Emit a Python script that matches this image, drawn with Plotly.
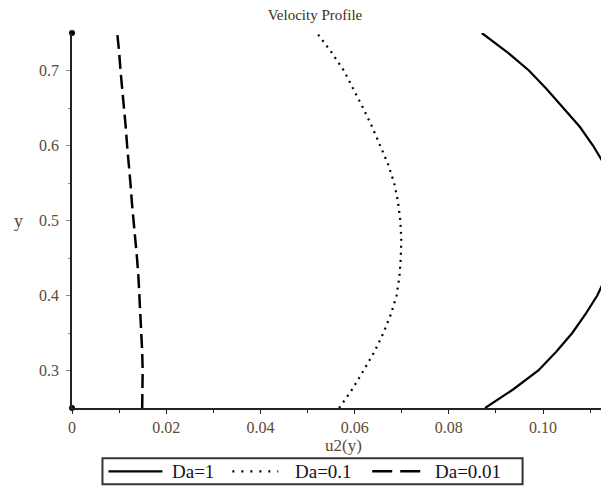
import plotly.graph_objects as go

# ---- data ----
y_vals = [0.25, 0.275, 0.30, 0.325, 0.35, 0.375, 0.40, 0.425, 0.45, 0.475, 0.50,
          0.525, 0.55, 0.575, 0.60, 0.625, 0.65, 0.675, 0.70, 0.725, 0.75]

u_da1 = [0.0877, 0.0937, 0.0990, 0.1028, 0.1062, 0.1090, 0.1115, 0.1134, 0.1148, 0.1157, 0.1160,
         0.1156, 0.1146, 0.1130, 0.1106, 0.1078, 0.1043, 0.1008, 0.0970, 0.0923, 0.0870]

u_da01 = [0.0567, 0.0595, 0.0619, 0.0642, 0.0661, 0.0677, 0.0689, 0.0695, 0.0698, 0.0699, 0.0697,
          0.0692, 0.0684, 0.0671, 0.0654, 0.0637, 0.0618, 0.0598, 0.0577, 0.0550, 0.0520]

u_da001 = [0.0149, 0.0150, 0.0150, 0.0149, 0.0147, 0.0146, 0.0144, 0.0141, 0.0138, 0.0134, 0.0130,
           0.0127, 0.0124, 0.0120, 0.0117, 0.0114, 0.0110, 0.0107, 0.0103, 0.0100, 0.0096]

series_names = ["Da=1", "Da=0.1", "Da=0.01"]

x_tick_vals = [0, 0.02, 0.04, 0.06, 0.08, 0.10]
x_tick_text = ["0", "0.02", "0.04", "0.06", "0.08", "0.10"]
x_minor_vals = [0.01, 0.03, 0.05, 0.07, 0.09, 0.11]
y_tick_vals = [0.3, 0.4, 0.5, 0.6, 0.7]
y_tick_text = ["0.3", "0.4", "0.5", "0.6", "0.7"]
y_minor_vals = [0.35, 0.45, 0.55, 0.65]

FONT = "Liberation Serif"
TXT = "#5c4a33"

# layout geometry (pixels); the page body adds an 8px margin, so the figure
# is 8px smaller and all page positions are shifted by that offset
OFF = 8
W, H = 609 - OFF, 488 - OFF
ML, MR, MT, MB = 71.5 - OFF, 0, 32.5 - OFF, 488 - 408.5
PW, PH = W - ML - MR, H - MT - MB


def px_x(px):
    """page x pixel -> paper x"""
    return (px - OFF - ML) / PW


def px_y(py):
    """page y pixel -> paper y"""
    return (H - MB - (py - OFF)) / PH


line_styles = [dict(color="black", width=2.2),
               dict(color="black", width=2.2, dash="2px,5px"),
               dict(color="black", width=2.5, dash="14px,6px")]
series_u = [u_da1, u_da01, u_da001]

fig = go.Figure()
for name, u, ls in zip(series_names, series_u, line_styles):
    fig.add_trace(go.Scatter(x=u, y=y_vals, mode="lines", name=name, line=ls))
# axis end dots (Maple style)
fig.add_trace(go.Scatter(x=[x_tick_vals[0], x_tick_vals[0]], y=[y_vals[0], y_vals[-1]],
                         mode="markers", marker=dict(color="black", size=6),
                         showlegend=False, hoverinfo="skip", cliponaxis=False))

fig.update_layout(
    width=W, height=H,
    margin=dict(l=ML, r=MR, t=MT, b=MB, pad=0, autoexpand=False),
    paper_bgcolor="white", plot_bgcolor="white",
    font=dict(family=FONT, color=TXT, size=16),
    title=dict(text="Velocity Profile", x=(315 - OFF) / W, xanchor="center",
               y=1 - (15 - OFF) / H, yanchor="middle", xref="container", yref="container",
               font=dict(family=FONT, size=15, color="#3d3020")),
    showlegend=False,
)

fig.update_xaxes(range=[0, 0.114], showgrid=False, zeroline=False,
                 showline=True, linecolor="#222222", linewidth=1.5,
                 tickmode="array", tickvals=x_tick_vals, ticktext=x_tick_text,
                 ticks="outside", ticklen=4, tickwidth=1.2, tickcolor="#222222",
                 minor=dict(tickmode="array", tickvals=x_minor_vals, ticks="outside",
                            ticklen=3, tickwidth=1.2, tickcolor="#222222"),
                 tickfont=dict(family=FONT, size=16, color=TXT))
fig.update_yaxes(range=[0.25, 0.75], showgrid=False, zeroline=False,
                 showline=True, linecolor="#222222", linewidth=1.5,
                 tickmode="array", tickvals=y_tick_vals, ticktext=y_tick_text,
                 ticks="outside", ticklen=4, tickwidth=1.2, tickcolor="#888888",
                 ticklabelstandoff=4,
                 minor=dict(tickmode="array", tickvals=y_minor_vals, ticks="outside",
                            ticklen=2, tickwidth=1.2, tickcolor="#888888"),
                 tickfont=dict(family=FONT, size=16, color=TXT))

# axis titles placed as in the reference
fig.add_annotation(text="u2(y)", xref="paper", yref="paper",
                   x=px_x(343), y=px_y(446),
                   xanchor="center", yanchor="middle", showarrow=False,
                   font=dict(family=FONT, size=17, color=TXT))
fig.add_annotation(text="y", xref="paper", yref="paper",
                   x=px_x(18), y=0.5,
                   xanchor="center", yanchor="middle", showarrow=False,
                   font=dict(family=FONT, size=18, color=TXT))

# Maple-style boxed legend drawn below the axis
fig.add_shape(type="rect", xref="paper", yref="paper",
              x0=px_x(102), x1=px_x(522.5), y0=px_y(485), y1=px_y(459),
              line=dict(color="#333333", width=2), fillcolor="white", layer="above")
legend_line_px = [(108, 162), (232, 278), (372, 425)]
legend_text_px = [170, 293, 433]
legend_dash = ["solid", "2px,7px", "20px,8px"]
ly = px_y(472)
for name, (a, b), tx, ls, dsh in zip(series_names, legend_line_px, legend_text_px,
                                     line_styles, legend_dash):
    fig.add_shape(type="line", xref="paper", yref="paper",
                  x0=px_x(a), x1=px_x(b), y0=ly, y1=ly,
                  line=dict(color="black", width=ls["width"], dash=dsh), layer="above")
    fig.add_annotation(text=name, xref="paper", yref="paper", x=px_x(tx), y=ly,
                       xanchor="left", yanchor="middle", showarrow=False,
                       font=dict(family=FONT, size=19, color="#1a1020"))

fig.write_html("out.html")
